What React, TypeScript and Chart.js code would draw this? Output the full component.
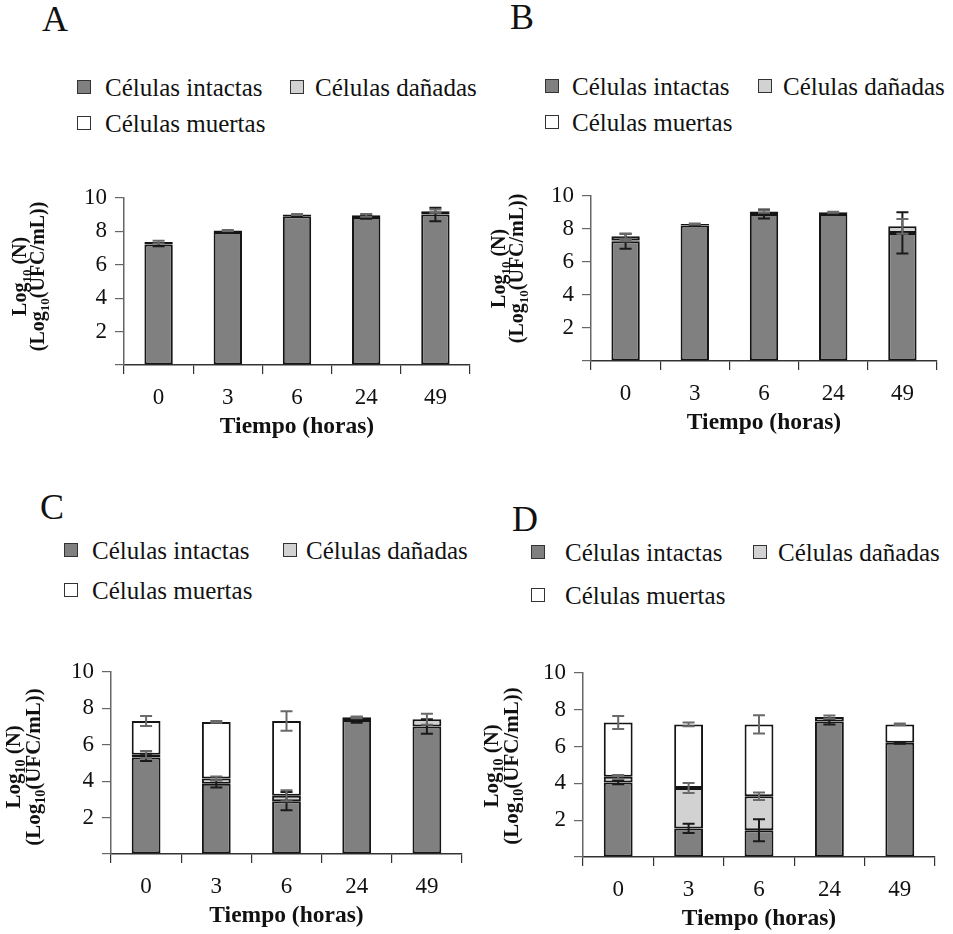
import React, { useEffect, useRef } from 'react';
import { Chart, registerables } from 'chart.js';

Chart.register(...registerables);

// ---------- data ----------
const timeLabels = ['0', '3', '6', '24', '49'];
const seriesNames = ['Células intactas', 'Células dañadas', 'Células muertas'];
const seriesColors = ['#808080', '#d2d2d2', '#ffffff'];
const errorColors = ['#1a1a1a', '#6a6a6a', '#6a6a6a'];
const xTitle = 'Tiempo (horas)';
const yTitleLines = [
  [{ t: 'Log', sub: false }, { t: '10', sub: true }, { t: ' (N)', sub: false }],
  [{ t: '(Log', sub: false }, { t: '10', sub: true }, { t: '(UFC/mL))', sub: false }],
];

// Levels (log10 UFC/mL) at the top of each stacked segment, and their errors
// Panel A
const aIntact = [7.2, 7.95, 8.9, 8.85, 9.0];
const aDamaged = [7.35, 8.05, 9.0, 8.95, 9.2];
const aDead = [7.35, 8.05, 9.0, 8.95, 9.2];
const aIntactErr = [0.1, 0.04, 0.04, 0.1, 0.4];
const aDamagedErr = [0.08, 0.03, 0.03, 0.08, 0.1];
const aDeadErr = [0, 0, 0, 0, 0];
// Panel B
const bIntact = [7.25, 8.2, 8.9, 8.9, 7.75];
const bDamaged = [7.3, 8.3, 9.05, 9.0, 8.15];
const bDead = [7.55, 8.3, 9.05, 9.0, 8.15];
const bIntactErr = [0.45, 0.03, 0.27, 0.03, 1.25];
const bDamagedErr = [0.05, 0.03, 0.08, 0.03, 0.45];
const bDeadErr = [0.15, 0, 0, 0, 0];
// Panel C
const cIntact = [5.3, 3.85, 2.9, 7.35, 7.0];
const cDamaged = [5.45, 4.15, 3.2, 7.5, 7.4];
const cDead = [7.3, 7.25, 7.3, 7.5, 7.4];
const cIntactErr = [0.2, 0.2, 0.5, 0.15, 0.4];
const cDamagedErr = [0.2, 0.1, 0.3, 0.05, 0.3];
const cDeadErr = [0.27, 0.05, 0.53, 0, 0];
// Panel D
const dIntact = [4.05, 1.55, 1.45, 7.35, 6.2];
const dDamaged = [4.35, 3.75, 3.3, 7.6, 6.2];
const dDead = [7.3, 7.2, 7.2, 7.6, 7.2];
const dIntactErr = [0.1, 0.25, 0.6, 0.15, 0.05];
const dDamagedErr = [0.1, 0.27, 0.2, 0.08, 0];
const dDeadErr = [0.35, 0.1, 0.5, 0, 0.05];

// ---------- layout ----------
const FONT = '"Liberation Serif", "Times New Roman", serif';

type Item = { bx: number; tx: number; cy: number };
type PanelSpec = {
  letter: string;
  letterPos: [number, number];
  legend: Item[];
  canvas: { left: number; top: number; width: number; height: number };
  yAxisWidth: number;
  padRight: number;
  yTitleOffsets: [number, number];
  yTitleShift: number;
  yTitleSize: number;
  levels: number[][];
  errors: number[][];
};

const panels: PanelSpec[] = [
  {
    letter: 'A', letterPos: [42, 7],
    legend: [{ bx: 77, tx: 105, cy: 87 }, { bx: 290, tx: 315, cy: 87 }, { bx: 77, tx: 105, cy: 123 }],
    canvas: { left: 0, top: 176, width: 478, height: 269 },
    yAxisWidth: 124, padRight: 8, yTitleOffsets: [-98.5, -80.5], yTitleShift: -5, yTitleSize: 20,
    levels: [aIntact, aDamaged, aDead], errors: [aIntactErr, aDamagedErr, aDeadErr],
  },
  {
    letter: 'B', letterPos: [510, 5],
    legend: [{ bx: 545, tx: 572, cy: 86 }, { bx: 758, tx: 783, cy: 86 }, { bx: 545, tx: 572, cy: 122 }],
    canvas: { left: 467, top: 174, width: 478, height: 267 },
    yAxisWidth: 124, padRight: 8, yTitleOffsets: [-86, -68], yTitleShift: -10, yTitleSize: 20,
    levels: [bIntact, bDamaged, bDead], errors: [bIntactErr, bDamagedErr, bDeadErr],
  },
  {
    letter: 'C', letterPos: [40, 495],
    legend: [{ bx: 64, tx: 92, cy: 550 }, { bx: 283, tx: 306, cy: 550 }, { bx: 64, tx: 92, cy: 590 }],
    canvas: { left: 0, top: 650, width: 470, height: 284 },
    yAxisWidth: 111, padRight: 8, yTitleOffsets: [-91, -71], yTitleShift: 4, yTitleSize: 21,
    levels: [cIntact, cDamaged, cDead], errors: [cIntactErr, cDamagedErr, cDeadErr],
  },
  {
    letter: 'D', letterPos: [512, 507],
    legend: [{ bx: 531, tx: 565, cy: 552 }, { bx: 753, tx: 778, cy: 552 }, { bx: 531, tx: 565, cy: 595 }],
    canvas: { left: 459, top: 651, width: 484, height: 286 },
    yAxisWidth: 124, padRight: 8, yTitleOffsets: [-85, -65], yTitleShift: 1, yTitleSize: 21,
    levels: [dIntact, dDamaged, dDead], errors: [dIntactErr, dDamagedErr, dDeadErr],
  },
];

function errorBarPlugin(p: PanelSpec) {
  return {
    id: 'errorBars' + p.letter,
    afterDatasetsDraw(chart: any) {
      const ctx = chart.ctx;
      const yScale = chart.scales.y;
      ctx.save();
      ctx.lineWidth = 2;
      p.levels.forEach((lv, di) => {
        const meta = chart.getDatasetMeta(di);
        ctx.strokeStyle = errorColors[di];
        lv.forEach((level, j) => {
          const e = p.errors[di][j];
          if (!e) return;
          const el = meta.data[j];
          const x = el.x;
          const yt = yScale.getPixelForValue(level + e);
          const yb = yScale.getPixelForValue(level - e);
          const hw = 6;
          ctx.beginPath();
          ctx.moveTo(x, yt); ctx.lineTo(x, yb);
          ctx.moveTo(x - hw, yt); ctx.lineTo(x + hw, yt);
          ctx.moveTo(x - hw, yb); ctx.lineTo(x + hw, yb);
          ctx.stroke();
        });
      });
      ctx.restore();
    },
  };
}

function yTitlePlugin(p: PanelSpec) {
  return {
    id: 'yTitle' + p.letter,
    afterDraw(chart: any) {
      const { ctx, chartArea } = chart;
      const cy = (chartArea.top + chartArea.bottom) / 2 + p.yTitleShift;
      const mainFont = `bold ${p.yTitleSize}px ${FONT}`;
      const subFont = `bold ${Math.round(p.yTitleSize * 0.65)}px ${FONT}`;
      yTitleLines.forEach((parts, li) => {
        ctx.save();
        ctx.translate(chartArea.left + p.yTitleOffsets[li], cy);
        ctx.rotate(-Math.PI / 2);
        ctx.fillStyle = '#111';
        ctx.textBaseline = 'alphabetic';
        ctx.textAlign = 'left';
        const widths = parts.map((pt) => {
          ctx.font = pt.sub ? subFont : mainFont;
          return ctx.measureText(pt.t).width;
        });
        let x = -widths.reduce((a, b) => a + b, 0) / 2;
        parts.forEach((pt, i) => {
          ctx.font = pt.sub ? subFont : mainFont;
          ctx.fillText(pt.t, x, pt.sub ? 5 : 0);
          x += widths[i];
        });
        ctx.restore();
      });
    },
  };
}

function buildConfig(p: PanelSpec): any {
  const [intact, damaged, dead] = p.levels;
  const segs = [
    intact,
    damaged.map((v, i) => v - intact[i]),
    dead.map((v, i) => v - damaged[i]),
  ];
  return {
    type: 'bar',
    data: {
      labels: timeLabels,
      datasets: seriesNames.map((name, k) => ({
        label: name,
        data: segs[k],
        backgroundColor: seriesColors[k],
        borderColor: '#151515',
        borderWidth: 2,
        borderSkipped: false,
        barPercentage: 0.41,
        categoryPercentage: 1,
        stack: 's',
      })),
    },
    options: {
      responsive: false,
      animation: false,
      devicePixelRatio: 1,
      layout: { padding: { top: 16, right: p.padRight, left: 0, bottom: 0 } },
      plugins: { legend: { display: false }, tooltip: { enabled: false } },
      scales: {
        x: {
          stacked: true,
          grid: { offset: true, drawOnChartArea: false, drawTicks: true, tickLength: 9, color: '#333', lineWidth: 1.2 },
          border: { display: true, color: '#333', width: 1.5 },
          ticks: { color: '#111', font: { family: FONT, size: 23 }, padding: 10, maxRotation: 0 },
          title: {
            display: true, text: xTitle, color: '#111',
            font: { family: FONT, size: 23.5, weight: 'bold' }, padding: { top: 0, bottom: 4 },
          },
          afterFit: (s: any) => { s.height = 80; },
        },
        y: {
          stacked: true,
          min: 0,
          max: 10,
          grid: { drawOnChartArea: false, drawTicks: true, tickLength: 9, color: '#666', lineWidth: 1.2 },
          border: { display: true, color: '#666', width: 1.5 },
          ticks: {
            stepSize: 2, color: '#111', font: { family: FONT, size: 23 }, padding: 8,
            callback: (v: any) => (v === 0 ? '' : String(v)),
          },
          afterFit: (s: any) => { s.width = p.yAxisWidth; },
        },
      },
    },
    plugins: [errorBarPlugin(p), yTitlePlugin(p)],
  };
}

function Panel({ spec }: { spec: PanelSpec }) {
  const ref = useRef<HTMLCanvasElement>(null);
  useEffect(() => {
    const chart = new Chart(ref.current as HTMLCanvasElement, buildConfig(spec));
    return () => chart.destroy();
  }, [spec]);
  const c = spec.canvas;
  return (
    <>
      <div
        style={{
          position: 'absolute', left: spec.letterPos[0], top: spec.letterPos[1] - 6,
          fontFamily: FONT, fontSize: 36, lineHeight: '36px', color: '#111',
        }}
      >
        {spec.letter}
      </div>
      {spec.legend.map((it, k) => (
        <React.Fragment key={k}>
          <div
            style={{
              position: 'absolute', left: it.bx, top: it.cy - 7, width: 12, height: 12,
              border: '1px solid #333', background: seriesColors[k],
            }}
          />
          <div
            style={{
              position: 'absolute', left: it.tx, top: it.cy - 12.5, fontFamily: FONT,
              fontSize: 25, lineHeight: '25px', color: '#111', whiteSpace: 'nowrap',
            }}
          >
            {seriesNames[k]}
          </div>
        </React.Fragment>
      ))}
      <canvas
        ref={ref}
        width={c.width}
        height={c.height}
        style={{ position: 'absolute', left: c.left, top: c.top, width: c.width, height: c.height }}
      />
    </>
  );
}

export default function App() {
  return (
    <div style={{ position: 'absolute', left: 0, top: 0, width: 953, height: 934, background: '#fff', overflow: 'hidden' }}>
      {panels.map((p) => (
        <Panel key={p.letter} spec={p} />
      ))}
    </div>
  );
}
